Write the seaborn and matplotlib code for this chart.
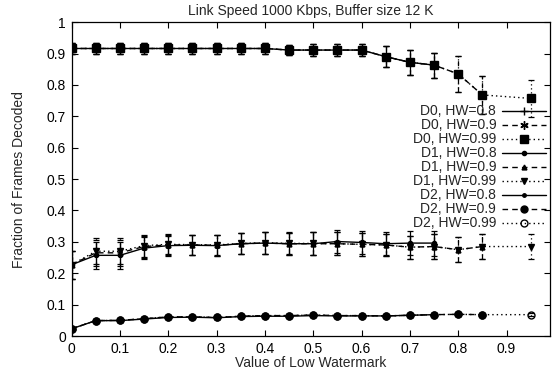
import matplotlib
matplotlib.use("Agg")
import matplotlib.pyplot as plt
import seaborn as sns
import numpy as np

# ---------------- data ----------------
x_hw08 = [0.0, 0.05, 0.1, 0.15, 0.2, 0.25, 0.3, 0.35, 0.4, 0.45, 0.5, 0.55, 0.6, 0.65, 0.7, 0.75]
x_hw09 = [0.0, 0.05, 0.1, 0.15, 0.2, 0.25, 0.3, 0.35, 0.4, 0.45, 0.5, 0.55, 0.6, 0.65, 0.7, 0.75, 0.8, 0.85]
x_hw099 = [0.0, 0.05, 0.1, 0.15, 0.2, 0.25, 0.3, 0.35, 0.4, 0.45, 0.5, 0.55, 0.6, 0.65, 0.7, 0.75, 0.8, 0.85, 0.95]

d0_hw08 = [0.916, 0.916, 0.916, 0.916, 0.916, 0.916, 0.916, 0.916, 0.916, 0.911, 0.911, 0.911, 0.911, 0.890, 0.872, 0.863]
d0_hw09 = [0.916, 0.916, 0.916, 0.916, 0.916, 0.916, 0.916, 0.916, 0.916, 0.911, 0.911, 0.911, 0.911, 0.890, 0.872, 0.863, 0.835, 0.768]
d0_hw099 = [0.916, 0.916, 0.916, 0.916, 0.916, 0.916, 0.916, 0.916, 0.916, 0.911, 0.911, 0.911, 0.911, 0.890, 0.872, 0.863, 0.835, 0.768, 0.757]
d0_err = [0.017, 0.017, 0.017, 0.017, 0.017, 0.017, 0.017, 0.017, 0.017, 0.017, 0.018, 0.018, 0.018, 0.034, 0.040, 0.040, 0.057, 0.060, 0.060]

d1_hw08 = [0.227, 0.257, 0.257, 0.280, 0.288, 0.289, 0.288, 0.294, 0.296, 0.294, 0.294, 0.301, 0.298, 0.294, 0.296, 0.296]
d1_hw09 = [0.227, 0.265, 0.265, 0.285, 0.290, 0.290, 0.289, 0.294, 0.296, 0.294, 0.294, 0.294, 0.292, 0.290, 0.283, 0.285, 0.275, 0.285]
d1_hw099 = [0.227, 0.270, 0.270, 0.288, 0.292, 0.291, 0.290, 0.295, 0.297, 0.295, 0.295, 0.294, 0.292, 0.290, 0.283, 0.285, 0.275, 0.285, 0.285]
d1_err = [0.045, 0.042, 0.042, 0.035, 0.032, 0.032, 0.033, 0.033, 0.035, 0.035, 0.036, 0.037, 0.036, 0.036, 0.037, 0.040, 0.040, 0.040, 0.040]

d2_hw08 = [0.023, 0.049, 0.049, 0.054, 0.059, 0.060, 0.058, 0.062, 0.063, 0.063, 0.065, 0.064, 0.064, 0.064, 0.066, 0.068]
d2_hw09 = [0.023, 0.049, 0.050, 0.055, 0.061, 0.061, 0.059, 0.063, 0.065, 0.065, 0.067, 0.065, 0.065, 0.064, 0.066, 0.068, 0.069, 0.068]
d2_hw099 = [0.023, 0.049, 0.050, 0.055, 0.061, 0.061, 0.059, 0.063, 0.065, 0.065, 0.067, 0.065, 0.065, 0.064, 0.066, 0.068, 0.069, 0.068, 0.068]
d2_err = [0.004] * 19

labels = ["D0, HW=0.8", "D0, HW=0.9", "D0, HW=0.99",
          "D1, HW=0.8", "D1, HW=0.9", "D1, HW=0.99",
          "D2, HW=0.8", "D2, HW=0.9", "D2, HW=0.99"]
xticks = [0, 0.1, 0.2, 0.3, 0.4, 0.5, 0.6, 0.7, 0.8, 0.9]
yticks = [0, 0.1, 0.2, 0.3, 0.4, 0.5, 0.6, 0.7, 0.8, 0.9, 1]

# ---------------- style ----------------
sns.set_style("ticks")
plt.rcParams["font.family"] = ["Liberation Sans", "DejaVu Sans"]
plt.rcParams["font.size"] = 10

fig = plt.figure(figsize=(5.55, 3.75), dpi=100)
ax = fig.add_axes([0.129, 0.104, 0.862, 0.837])

DASH = (0, (4, 3))
DOT = (0, (1, 2.2))

series = [
    (x_hw08, d0_hw08, d0_err, "-", "+", 6, "k"),
    (x_hw09, d0_hw09, d0_err, DASH, (6, 2, 0), 6, "k"),
    (x_hw099, d0_hw099, d0_err, DOT, "s", 5.5, "k"),
    (x_hw08, d1_hw08, d1_err, "-", "o", 3, "k"),
    (x_hw09, d1_hw09, d1_err, DASH, "^", 3.5, "k"),
    (x_hw099, d1_hw099, d1_err, DOT, "v", 4.5, "k"),
    (x_hw08, d2_hw08, d2_err, "-", "o", 2.5, "k"),
    (x_hw09, d2_hw09, d2_err, DASH, "o", 5, "k"),
    (x_hw099, d2_hw099, d2_err, DOT, "o", 5, "none"),
]

handles = []
for (xs, ys, errs, ls, mk, ms, mfc), lab in zip(series, labels):
    n = len(xs)
    eb = ax.errorbar(xs, ys, yerr=errs[:n], fmt="none", ecolor="k",
                     elinewidth=0.9, capsize=2.5, capthick=0.9, zorder=2)
    for lc in eb[2]:
        lc.set_linestyle(ls)
    sns.lineplot(x=xs, y=ys, ax=ax, color="k", linestyle=ls, linewidth=1.0,
                 marker=mk, markersize=ms, markerfacecolor=mfc,
                 markeredgecolor="k", markeredgewidth=1.0,
                 estimator=None, sort=False, zorder=3)
    handles.append(ax.lines[-1])

ax.set_xlim(0, 0.99)
ax.set_ylim(0, 1)
ax.set_xticks(xticks)
ax.set_xticklabels([f"{t:g}" for t in xticks])
ax.set_yticks(yticks)
ax.set_yticklabels([f"{t:g}" for t in yticks])
ax.tick_params(direction="in", top=True, right=True, length=4, width=0.8,
               labelsize=10, pad=4, colors="k")
for sp in ax.spines.values():
    sp.set_visible(True)
    sp.set_color("k")
    sp.set_linewidth(0.9)

ax.set_xlabel("Value of Low Watermark", fontsize=10, labelpad=0)
ax.set_ylabel("Fraction of Frames Decoded", fontsize=10, labelpad=15)
ax.set_title("Link Speed 1000 Kbps, Buffer size 12 K", fontsize=10, pad=5)

leg = ax.legend(handles, labels, loc="upper right", bbox_to_anchor=(0.992, 0.738),
                markerfirst=False, frameon=False, borderpad=0, borderaxespad=0,
                handlelength=3.2, handletextpad=0.4, labelspacing=0.0,
                handleheight=0.5, fontsize=10)

fig.savefig("out.png", dpi=100)
